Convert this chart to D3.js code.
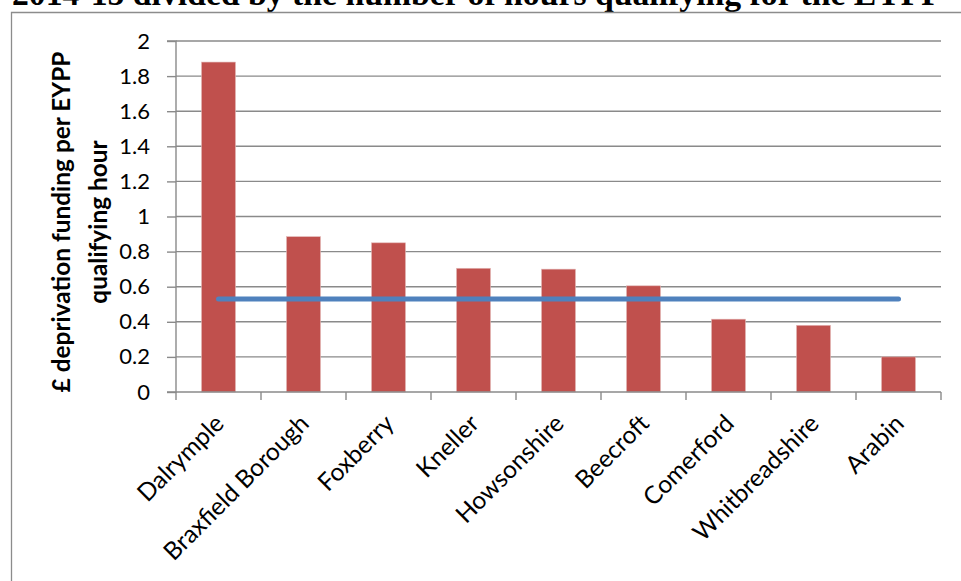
<!DOCTYPE html>
<html>
<head>
<meta charset="utf-8">
<script src="https://cdn.jsdelivr.net/npm/d3@7"></script>
<style>
  html, body { margin: 0; padding: 0; background: #fff; }
  svg { display: block; }
</style>
</head>
<body>
<svg id="chart" width="961" height="581"></svg>
<script>
// ---- data ----
const categories = ["Dalrymple", "Braxfield Borough", "Foxberry", "Kneller", "Howsonshire", "Beecroft", "Comerford", "Whitbreadshire", "Arabin"];
const fundingPerHour = [1.88, 0.885, 0.85, 0.705, 0.70, 0.605, 0.415, 0.38, 0.20];
const averageLine = [0.53, 0.53, 0.53, 0.53, 0.53, 0.53, 0.53, 0.53, 0.53];
const yTicks = [0, 0.2, 0.4, 0.6, 0.8, 1, 1.2, 1.4, 1.6, 1.8, 2];
const titleText = "2014-15 divided by the number of hours qualifying for the EYPP";
const yTitleLines = ["£ deprivation funding per EYPP", "qualifying hour"];

// ---- layout ----
const svg = d3.select("#chart");
const plot = { left: 176, right: 941, top: 41, bottom: 392 };
const sansFont = "Lato, 'Open Sans', sans-serif";

const x = d3.scaleBand().domain(categories).range([plot.left, plot.right]).paddingInner(0).paddingOuter(0);
const y = d3.scaleLinear().domain([0, 2]).range([plot.bottom, plot.top]);

function fit(sel, target) {
  const len = sel.node().getComputedTextLength();
  const fs = parseFloat(sel.attr("font-size"));
  sel.attr("font-size", fs * target / len);
  return fs * target / len;
}

// title (cut off at top, as in the source)
const title = svg.append("text")
  .attr("x", 12).attr("y", 5)
  .attr("font-family", "'Liberation Serif', 'DejaVu Serif', serif")
  .attr("font-weight", "bold")
  .attr("font-size", 26)
  .attr("fill", "#000")
  .text(titleText);
fit(title, 930);

// chart frame
svg.append("path")
  .attr("d", "M11.5,590 V12.5 H970")
  .attr("fill", "none").attr("stroke", "#8c8c8c").attr("stroke-width", 1.3);

// gridlines
svg.append("g").selectAll("line").data(yTicks.filter(d => d > 0)).join("line")
  .attr("x1", plot.left).attr("x2", plot.right)
  .attr("y1", d => y(d)).attr("y2", d => y(d))
  .attr("stroke", "#8a8a8a").attr("stroke-width", 1.4);

// bars
const bw = x.bandwidth() * 0.4;
svg.append("g").selectAll("rect").data(categories).join("rect")
  .attr("x", (d) => x(d) + (x.bandwidth() - bw) / 2)
  .attr("width", bw)
  .attr("y", (d, i) => y(fundingPerHour[i]))
  .attr("height", (d, i) => y(0) - y(fundingPerHour[i]))
  .attr("fill", "#C0504D")
  .attr("stroke", "#e3b7b6").attr("stroke-width", 0.6);

// y axis
const yAxis = d3.axisLeft(y).tickValues(yTicks).tickSize(9).tickPadding(17)
  .tickFormat(d => d3.format("~g")(d));
const gy = svg.append("g").attr("transform", `translate(${plot.left},0)`).call(yAxis);
gy.select(".domain").attr("stroke", "#8a8a8a").attr("stroke-width", 1.4).attr("d", `M-9,${plot.top}H0V${plot.bottom}H-9`);
gy.selectAll(".tick line").attr("stroke", "#8a8a8a").attr("stroke-width", 1.4);
gy.selectAll(".tick text").attr("font-family", sansFont).attr("font-size", 22).attr("fill", "#000")
  .attr("x", -26);

// x axis
const gx = svg.append("g").attr("transform", `translate(0,${plot.bottom})`);
gx.append("line").attr("x1", plot.left).attr("x2", plot.right).attr("stroke", "#8a8a8a").attr("stroke-width", 1.4);
const boundaries = categories.map(c => x(c)).concat([plot.right]);
gx.selectAll("line.tk").data(boundaries).join("line").attr("class", "tk")
  .attr("x1", d => d).attr("x2", d => d).attr("y1", 0).attr("y2", 8)
  .attr("stroke", "#8a8a8a").attr("stroke-width", 1.4);
gx.selectAll("text").data(categories).join("text")
  .attr("transform", d => `translate(${x(d) + x.bandwidth() / 2 + 7},${33}) rotate(-45)`)
  .attr("text-anchor", "end")
  .attr("font-family", sansFont).attr("font-size", 24.5).attr("fill", "#000")
  .text(d => d);

// average line
const line = d3.line().x((d, i) => x(categories[i]) + x.bandwidth() / 2).y(d => y(d));
svg.append("path").datum(averageLine)
  .attr("d", line).attr("fill", "none")
  .attr("stroke", "#4F81BD").attr("stroke-width", 5).attr("stroke-linecap", "round");

// y title
const yt = svg.append("text")
  .attr("transform", "translate(70,222) rotate(-90)")
  .attr("text-anchor", "middle")
  .attr("font-family", sansFont).attr("font-weight", "bold").attr("font-size", 22).attr("fill", "#000");
yt.append("tspan").attr("x", 0).attr("y", 0).text(yTitleLines[0]);
const fs = fit(yt, 341);
yt.append("tspan").attr("x", 0).attr("y", fs * 1.5).text(yTitleLines[1]);
</script>
</body>
</html>
